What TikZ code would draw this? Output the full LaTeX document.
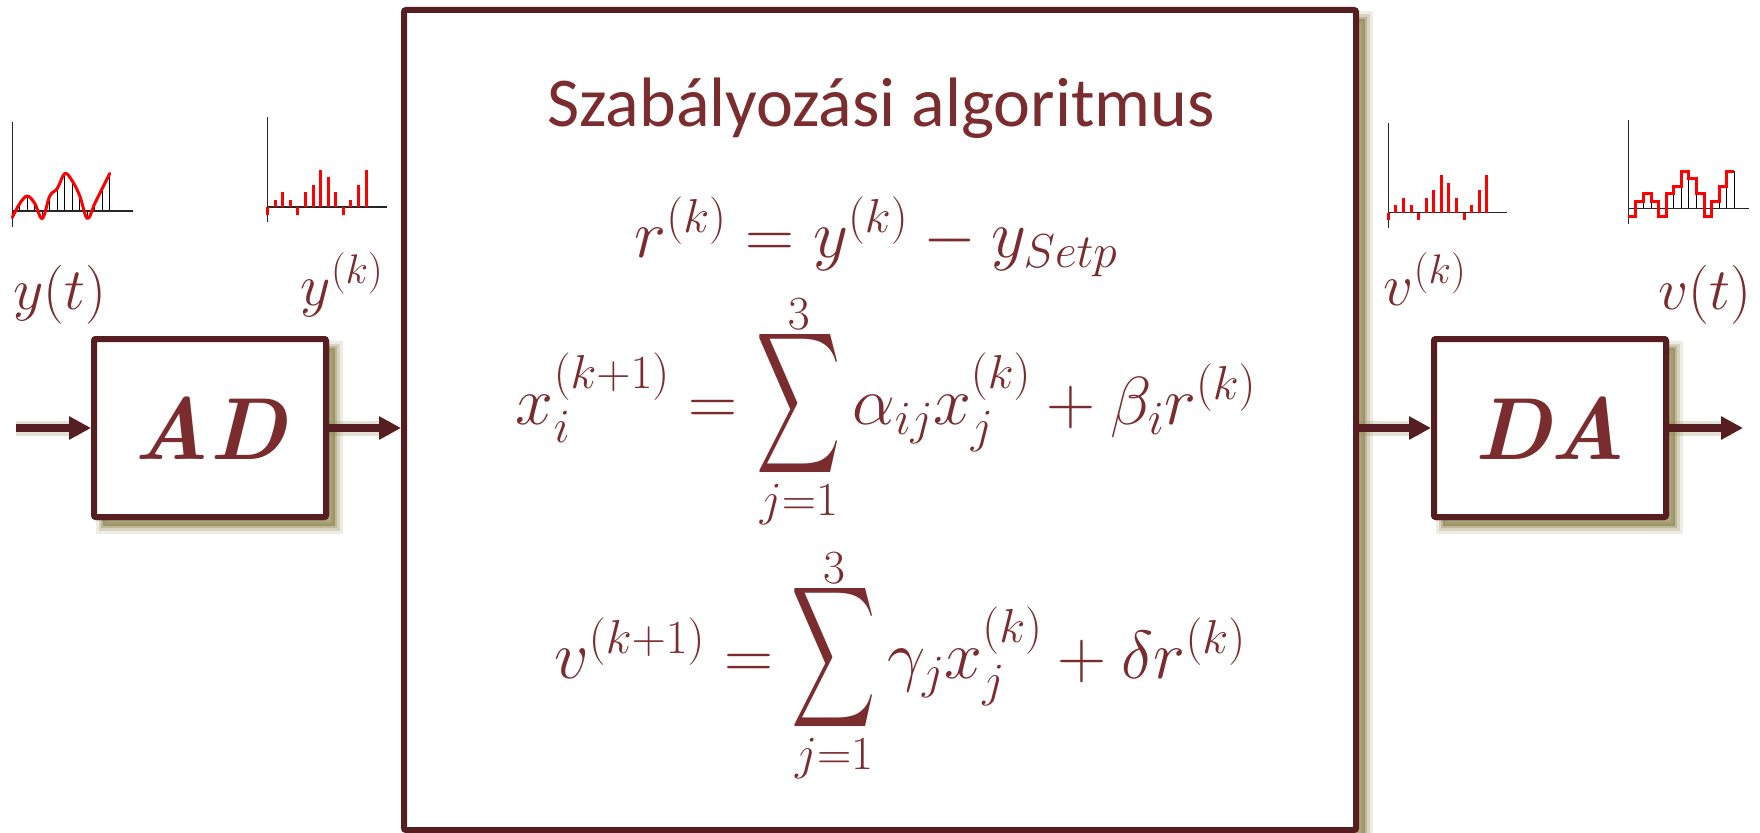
\RequirePackage{fix-cm}
\documentclass[tikz,border=0pt]{standalone}
\usepackage{amsmath}
\usepackage{graphicx}
\usepackage{fontspec}
\DeclareFontFamily{OMX}{cmex}{}
\DeclareFontShape{OMX}{cmex}{m}{n}{<->cmex10}{}
\newfontfamily\titlefont{Carlito}
\usetikzlibrary{arrows.meta}
\definecolor{textc}{RGB}{122,44,46}
\definecolor{linec}{RGB}{86,30,32}
\definecolor{shadc}{RGB}{143,134,80}
\newcommand\bigsum[2]{\mathop{\vcenter{\offinterlineskip\halign{\hfil##\hfil\cr
  $\scriptstyle #2$\cr\noalign{\kern-5pt}
  \scalebox{0.86}[1.45]{$\displaystyle\sum$}\cr\noalign{\kern2pt}
  \raisebox{0pt}[\height][0pt]{$\scriptstyle #1$}\cr}}}}
\newcommand\boxshadow[4]{%
  \fill[shadc, opacity=.7] (#1+9,#2+9) rectangle (#3+9,#4+9);
  \foreach \w/\o in {4/.35, 9/.25, 15/.15}{\draw[shadc, opacity=\o, line width=\w pt] (#1+9,#2+9) rectangle (#3+9,#4+9);}
}
\tikzset{
  blk/.style={draw=linec, line width=6pt, fill=white, rounded corners=2pt, text=textc, inner sep=0pt},
  blktxt/.style={font=\fontsize{88}{92}\selectfont\bfseries\itshape},
  arr/.style={draw=linec, line width=8pt, -{Triangle[length=22pt,width=22pt]}},
  arrshadow/.style={draw=shadc, opacity=.55, line width=8pt, -{Triangle[length=22pt,width=22pt]}},
  arrblur/.style={draw=shadc, opacity=.25, line width=15pt},
  lab/.style={text=textc, font=\fontsize{59}{62}\selectfont, inner sep=0pt, anchor=base},
  eqn/.style={text=textc, font=\fontsize{68}{72}\selectfont, inner sep=0pt, anchor=base},
  ax/.style={draw=black!85, line width=1.5pt},
  stem/.style={draw=black, line width=1pt},
  redbar/.style={draw=red, line width=3pt},
  redcurve/.style={draw=red, line width=3pt, line join=round, line cap=round},
}
\begin{document}
\begin{tikzpicture}[x=1pt,y=-1pt]
\useasboundingbox (0,0) rectangle (1760,832);
% shadows
\boxshadow{404}{10}{1356}{830}
\boxshadow{94}{339}{326}{517}
\boxshadow{1434}{339}{1666}{517}
% boxes
\node[blk, minimum width=952pt, minimum height=820pt] (main) at (880,420) {};
\node[blk, blktxt, minimum width=232pt, minimum height=178pt] (AD) at (210,428) {AD};
\node[blk, blktxt, minimum width=232pt, minimum height=178pt] (DA) at (1550,428) {DA};
\coordinate (in) at (16,428);
\coordinate (out) at (1743,428);
% arrow shadows
\begin{scope}[shift={(4,7)}]
  \draw[arrblur] (in) -- ([xshift=-12pt]AD.west);
  \draw[arrblur] (AD.east) -- ([xshift=-12pt]AD.east -| main.west);
  \draw[arrblur] (DA.west -| main.east) -- ([xshift=-12pt]DA.west);
  \draw[arrblur] (DA.east) -- ([xshift=-12pt]out);
  \draw[arrshadow] (in) -- (AD.west);
  \draw[arrshadow] (AD.east) -- (AD.east -| main.west);
  \draw[arrshadow] (DA.west -| main.east) -- (DA.west);
  \draw[arrshadow] (DA.east) -- (out);
\end{scope}
\node[blk, blktxt, minimum width=232pt, minimum height=178pt] at (AD) {AD};
\node[blk, blktxt, minimum width=232pt, minimum height=178pt] at (DA) {DA};
% arrows
\draw[arr] (in) -- (AD.west);
\draw[arr] (AD.east) -- (AD.east -| main.west);
\draw[arr] (DA.west -| main.east) -- (DA.west);
\draw[arr] (DA.east) -- (out);
% title and equations
\node[text=textc, font=\titlefont\fontsize{70}{76}\selectfont, anchor=base, inner sep=0pt] (title) at (881,127) {Szabályozási algoritmus};
\node[eqn] (e1) at (876,257) {$r^{(k)} = y^{(k)} - y_{Setp}$};
\node[eqn] (e2) at (886,424) {$x_i^{(k+1)} = \bigsum{j=1}{3} \alpha_{ij} x_j^{(k)} + \beta_i r^{(k)}$};
\node[eqn] (e3) at (900,678) {$v^{(k+1)} = \bigsum{j=1}{3} \gamma_j x_j^{(k)} + \delta r^{(k)}$};
% labels
\node[lab] (yt) at (60,309) {$y(t)$};
\node[lab] (yk) at (342,305) {$y^{(k)}$};
\node[lab] (vk) at (1425,305) {$v^{(k)}$};
\node[lab] (vt) at (1705,309) {$v(t)$};
% plot 1: continuous signal
\begin{scope}[shift={(12.3,211)}]
  \foreach \v [count=\i from 0] in {-1,1,2,1,-1,2,3,5,4,2,-1,1,3,5}{
    \ifnum\i>0 \draw[stem] (\i*7.5,0) -- (\i*7.5,{-7.5*(\v)}); \fi}
  \draw[ax] (0,-89) -- (0,16);
  \draw[ax] (0,0) -- (121,0);
  \draw[redcurve] plot[smooth, tension=0.6] coordinates {(0,6.5) (7.5,-7.5) (15,-15) (22.5,-7.5) (30,7.5) (37.5,-15) (45,-22.5) (52.5,-37.5) (60,-30) (67.5,-15) (75,7.5) (82.5,-7.5) (90,-22.5) (97.5,-37.5)};
\end{scope}
% plot 2 and 3: samples
\foreach \ox/\oy in {267.7/207, 1388.3/212.7}{
\begin{scope}[shift={(\ox,\oy)}]
  \draw[ax] (0,-90) -- (0,15);
  \draw[ax] (0,0) -- (119,0);
  \foreach \v [count=\i from 0] in {-1,1,2,1,-1,2,3,5,4,2,-1,1,3,5}{
    \draw[redbar] (\i*7.57,0) -- (\i*7.57,{-7.5*(\v)});}
\end{scope}}
% plot 4: held signal
\begin{scope}[shift={(1628.3,208.7)}]
  \foreach \v [count=\i] in {1,2,1,-1,2,3,5,4,2,-1,1,3,5}{
    \draw[stem] (\i*7.57,0) -- (\i*7.57,{-7.5*(\v)});}
  \draw[stem] (105.98,0) -- (105.98,-37.5);
  \draw[ax] (0,-89) -- (0,15);
  \draw[ax] (0,0) -- (121,0);
  \draw[redcurve, line cap=butt, line join=miter] (0,7.5) -- (7.57,7.5) -- (7.57,-7.5) -- (15.14,-7.5) -- (15.14,-15) -- (22.71,-15) -- (22.71,-7.5) -- (30.28,-7.5) -- (30.28,7.5) -- (37.85,7.5) -- (37.85,-15) -- (45.42,-15) -- (45.42,-22.5) -- (52.99,-22.5) -- (52.99,-37.5) -- (60.56,-37.5) -- (60.56,-30) -- (68.13,-30) -- (68.13,-15) -- (75.7,-15) -- (75.7,7.5) -- (83.27,7.5) -- (83.27,-7.5) -- (90.84,-7.5) -- (90.84,-22.5) -- (98.41,-22.5) -- (98.41,-37.5) -- (105.98,-37.5);
\end{scope}
\end{tikzpicture}
\end{document}
